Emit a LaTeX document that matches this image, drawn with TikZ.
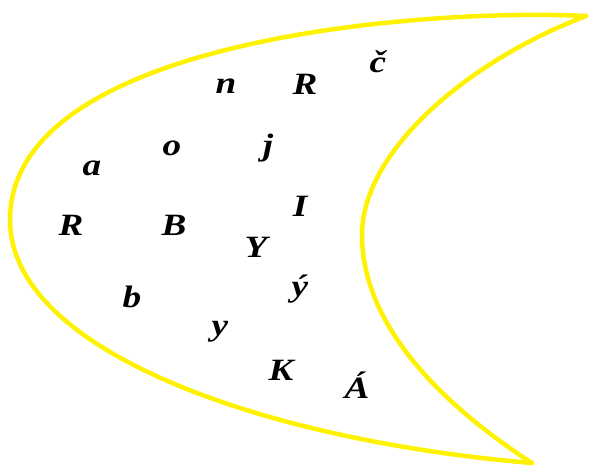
\documentclass[tikz,border=0pt]{standalone}
\usepackage{fontspec}
\setmainfont{Liberation Serif}
\newcommand{\wl}[1]{\scalebox{1.2}[1]{#1}}
\begin{document}
\begin{tikzpicture}[x=1pt,y=-1pt,
  rim/.style={draw=yellow,line width=4.5pt,line cap=round,line join=round},
  lt/.style={font=\bfseries\itshape\fontsize{31}{31}\selectfont,anchor=base,inner sep=0pt}]
\useasboundingbox (0,0) rectangle (592,466);
\coordinate (toptip) at (586,16);
\coordinate (left) at (10,220);
\coordinate (inner) at (362,235);
\coordinate (bottip) at (532,463);
\draw[rim] (toptip) .. controls (420,8) and (10,40) .. (left)
  .. controls (10,350) and (260,440) .. (bottip);
\draw[rim] (toptip) .. controls (470,60) and (362,150) .. (inner)
  .. controls (362,330) and (450,410) .. (bottip);
\node[lt] (n) at (226,93) {\wl{n}};
\node[lt] (R1) at (305,94) {\wl{R}};
\node[lt] (cc) at (378,72) {\wl{č}};
\node[lt] (a) at (92,175) {\wl{a}};
\node[lt] (o) at (172,155) {\wl{o}};
\node[lt] (j) at (268,155) {\wl{j}};
\node[lt] (I) at (300,216) {\wl{I}};
\node[lt] (R2) at (71,235) {\wl{R}};
\node[lt] (B) at (174,235) {\wl{B}};
\node[lt] (Y) at (256,257) {\wl{Y}};
\node[lt] (b) at (132,307) {\wl{b}};
\node[lt] (yacute) at (300,296) {\wl{ý}};
\node[lt] (y) at (220,335) {\wl{y}};
\node[lt] (K) at (281,380) {\wl{K}};
\node[lt] (Aacute) at (357,398) {\wl{Á}};
\end{tikzpicture}
\end{document}
